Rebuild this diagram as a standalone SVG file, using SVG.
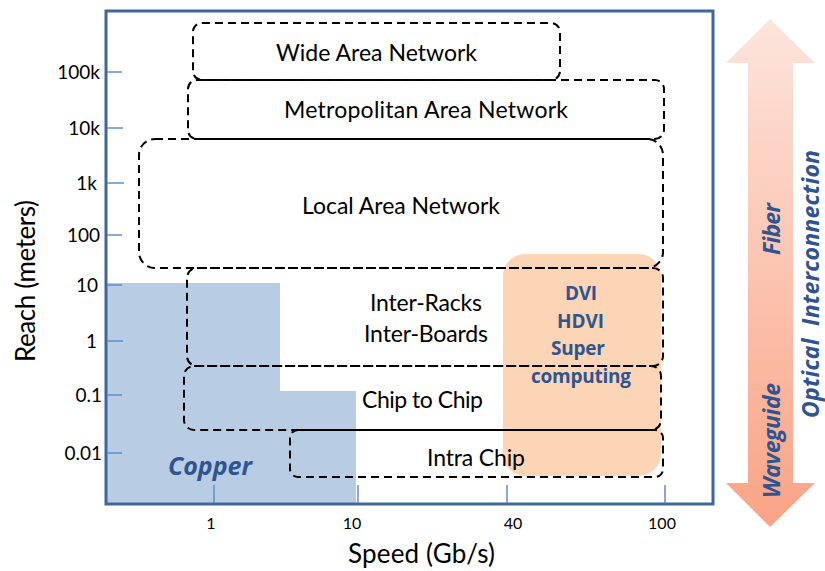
<svg xmlns="http://www.w3.org/2000/svg" width="825" height="571" viewBox="0 0 825 571">
<defs>
<linearGradient id="arrowGrad" x1="0" y1="0" x2="0" y2="1">
<stop offset="0" stop-color="#fde4dc"/>
<stop offset="1" stop-color="#f9a385"/>
</linearGradient>
<style>
.lbl{font-family:Lato,"Liberation Sans",sans-serif;fill:#000;}
.box{fill:none;stroke:#000;stroke-width:2;stroke-dasharray:8,5;}
.tick{stroke:#5b8fd0;stroke-width:1.5;}
.blue{font-family:"Open Sans","Liberation Sans",sans-serif;fill:#2f5490;font-weight:bold;}
</style>
</defs>
<rect width="825" height="571" fill="#fff"/>
<g id="copper">
<path d="M107,283 H280 V391 H356 V504 H107 Z" fill="#b8cce4"/>
<text class="blue" x="210" y="475" font-size="25" font-style="italic" text-anchor="middle" textLength="84">Copper</text>
</g>
<g id="optical-region">
<rect x="503" y="254" width="158" height="222" rx="22" fill="#fbd5b5"/>
<text class="blue" x="581" y="300" font-size="19" text-anchor="middle" textLength="32">DVI</text>
<text class="blue" x="580.5" y="328" font-size="19" text-anchor="middle" textLength="47">HDVI</text>
<text class="blue" x="578" y="355" font-size="19" text-anchor="middle" textLength="54">Super</text>
<text class="blue" x="581" y="383" font-size="19" text-anchor="middle" textLength="100">computing</text>
</g>
<g id="axes">
<rect x="106" y="11" width="607" height="493" fill="none" stroke="#41669a" stroke-width="3"/>
<line class="tick" x1="107" y1="72" x2="122" y2="72"/>
<line class="tick" x1="107" y1="128" x2="123" y2="128"/>
<line class="tick" x1="107" y1="183" x2="124" y2="183"/>
<line class="tick" x1="107" y1="235" x2="122" y2="235"/>
<line class="tick" x1="107" y1="285" x2="122" y2="285"/>
<line class="tick" x1="107" y1="341" x2="123" y2="341"/>
<line class="tick" x1="107" y1="395" x2="122" y2="395"/>
<line class="tick" x1="107" y1="453" x2="122" y2="453"/>
<line class="tick" x1="214" y1="485" x2="214" y2="503"/>
<line class="tick" x1="358" y1="485" x2="358" y2="503"/>
<line class="tick" x1="507" y1="485" x2="507" y2="503"/>
<line class="tick" x1="665" y1="485" x2="665" y2="503"/>
<g class="lbl" font-size="19" text-anchor="end">
<text x="100" y="79">100k</text>
<text x="100" y="135">10k</text>
<text x="97" y="190">1k</text>
<text x="100" y="242">100</text>
<text x="98" y="292">10</text>
<text x="97" y="348">1</text>
<text x="102" y="402">0.1</text>
<text x="102" y="460">0.01</text>
</g>
<g class="lbl" font-size="16" text-anchor="middle">
<text x="211" y="529">1</text>
<text x="352" y="529">10</text>
<text x="513" y="529">40</text>
<text x="662" y="529">100</text>
</g>
<text class="lbl" x="421.5" y="563" font-size="26" text-anchor="middle" textLength="147">Speed (Gb/s)</text>
<text class="lbl" transform="translate(35,281) rotate(-90)" font-size="26" text-anchor="middle" textLength="162">Reach (meters)</text>
</g>
<g id="connectors"></g>
<g id="wan">
<rect class="box" x="193" y="23" width="367" height="57" rx="9"/>
<text class="lbl" x="376.5" y="61" font-size="23" text-anchor="middle" textLength="201">Wide Area Network</text>
</g>
<g id="man">
<rect class="box" x="188" y="80" width="476" height="59" rx="9"/>
<text class="lbl" x="426" y="118" font-size="23" text-anchor="middle" textLength="284">Metropolitan Area Network</text>
</g>
<g id="lan">
<rect class="box" x="139" y="139" width="524" height="129" rx="16"/>
<text class="lbl" x="401" y="214" font-size="23" text-anchor="middle" textLength="198">Local Area Network</text>
</g>
<g id="racks">
<rect class="box" x="187" y="268" width="476" height="98" rx="10"/>
<text class="lbl" x="426" y="311" font-size="23" text-anchor="middle" textLength="112">Inter-Racks</text>
<text class="lbl" x="426" y="342" font-size="23" text-anchor="middle" textLength="124">Inter-Boards</text>
</g>
<g id="chip2chip">
<rect class="box" x="184" y="366" width="477" height="64" rx="10"/>
<text class="lbl" x="422.5" y="408" font-size="23" text-anchor="middle" textLength="121">Chip to Chip</text>
</g>
<g id="intrachip">
<rect class="box" x="290" y="430" width="373" height="47" rx="8"/>
<text class="lbl" x="476" y="466" font-size="23" text-anchor="middle" textLength="98">Intra Chip</text>
</g>
<g id="arrow">
<path d="M770,19 L815,63 H793 V483 H815 L770,527 L726,483 H748 V63 H726 Z" fill="url(#arrowGrad)"/>
<text class="blue" transform="translate(780,229) rotate(-90)" font-size="23" font-style="italic" text-anchor="middle" textLength="52">Fiber</text>
<text class="blue" transform="translate(780,440.5) rotate(-90)" font-size="23" font-style="italic" text-anchor="middle" textLength="115">Waveguide</text>
<text class="blue" transform="translate(819,284) rotate(-90)" font-size="23" font-style="italic" text-anchor="middle" textLength="268" xml:space="preserve">Optical  Interconnection</text>
</g>
</svg>
